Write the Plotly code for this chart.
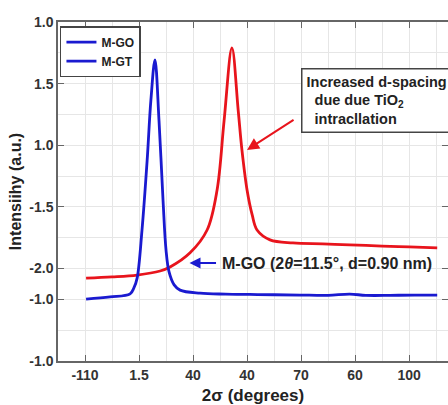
import plotly.graph_objects as go

# -----------------------------
# Datos (unidades de rejilla)
# -----------------------------
x_tick_pos = [1, 3, 5, 7, 9, 11, 13]
x_tick_text = ["-110", "1.5", "40", "40", "70", "60", "100"]
y_tick_pos = [0, 2, 3, 5, 7, 9, 11]
y_tick_text = ["-1.0", "-1.0", "-2.0", "-1.5", "1.0", "1.5", "1.0"]

mgo_x = [1.04, 1.93, 2.67, 2.81, 2.93, 3.11, 3.30, 3.44, 3.59, 3.74, 3.89, 4.00, 4.11,
         4.30, 4.52, 5.26, 6.2, 7.1, 8.0, 8.96, 10.0, 10.8, 11.4, 12.3, 13.2, 14.04]
mgo_y = [2.01, 2.08, 2.18, 2.37, 2.69, 4.25, 6.50, 8.47, 9.77, 7.80, 5.20, 3.60, 2.90,
         2.47, 2.30, 2.20, 2.17, 2.16, 2.15, 2.14, 2.13, 2.17, 2.13, 2.13, 2.14, 2.14]

mgt_x = [1.04, 2.0, 2.93, 3.78, 4.15, 4.89, 5.52, 5.89, 6.15, 6.44, 6.67, 6.81, 7.00,
         7.19, 7.37, 7.85, 8.70, 9.8, 10.8, 12.0, 13.0, 14.04]
mgt_y = [2.69, 2.73, 2.79, 2.92, 3.05, 3.51, 4.25, 5.55, 7.80, 10.16, 8.15, 6.85, 5.55,
         4.74, 4.25, 3.93, 3.83, 3.80, 3.77, 3.73, 3.70, 3.67]

FONT = "Liberation Sans, Arial"
BLUE = "#1a1ad0"
RED = "#e8141c"

fig = go.Figure()

fig.add_trace(go.Scatter(x=mgt_x, y=mgt_y, mode="lines", line=dict(color=RED, width=2.8),
                         line_shape="spline", showlegend=False))
fig.add_trace(go.Scatter(x=mgo_x, y=mgo_y, mode="lines", line=dict(color=BLUE, width=2.8),
                         line_shape="spline", name="M-GO"))
# la leyenda original muestra M-GT en azul
fig.add_trace(go.Scatter(x=[None], y=[None], mode="lines", line=dict(color=BLUE, width=2.8),
                         name="M-GT"))

axis_font = dict(family=FONT, size=14, color="#333333", weight="bold")
common = dict(
    tickfont=axis_font, ticks="inside", ticklen=6, tickcolor="#666666",
    showline=True, linecolor="#666666", linewidth=1.5, mirror="ticks",
    showgrid=True, gridcolor="#e6e6e6", gridwidth=1,
    minor=dict(dtick=1, tick0=0, showgrid=True, gridcolor="#e6e6e6", ticks=""),
    zeroline=False, automargin=False,
)

fig.update_xaxes(
    range=[0, 14.44], tickvals=x_tick_pos, ticktext=x_tick_text, **common,
    title=dict(text="2σ (degrees)", font=dict(family=FONT, size=17, color="#222222",
                                                weight="bold"), standoff=9),
)
fig.update_yaxes(
    range=[0, 11], tickvals=y_tick_pos, ticktext=y_tick_text, **common,
    title=dict(text="Intensiihy (a.u.)", font=dict(family=FONT, size=16, color="#222222",
                                                     weight="bold"), standoff=4),
)

# flecha roja hacia el pico M-GT
fig.add_annotation(
    x=7.0, y=6.85, ax=48, ay=-31, xref="x", yref="y", text="", showarrow=True,
    arrowhead=2, arrowsize=1.2, arrowwidth=2, arrowcolor=RED,
)
fig.add_annotation(
    x=0.623, y=0.865, xref="paper", yref="paper", xanchor="left", yanchor="top",
    text="Increased d-spacing<br>  due due TiO<sub>2</sub><br>  intracllation",
    showarrow=False, align="left", bordercolor="#444444", borderwidth=1.5, borderpad=4,
    bgcolor="white", font=dict(family=FONT, size=14.5, color="#222222", weight="bold"),
)

# flecha azul + etiqueta M-GO
fig.add_annotation(
    x=4.87, y=3.18, ax=28, ay=0, xref="x", yref="y", text="", showarrow=True,
    arrowhead=2, arrowsize=1.1, arrowwidth=2, arrowcolor=BLUE,
)
fig.add_annotation(
    x=6.0, y=3.18, xref="x", yref="y", xanchor="left", yanchor="middle",
    text="M-GO (2<i>θ</i>=11.5°, d=0.90 nm)", showarrow=False,
    font=dict(family=FONT, size=16, color="#222222", weight="bold"),
)

fig.update_layout(
    width=448, height=405,
    margin=dict(l=58, r=0, t=22, b=44),
    plot_bgcolor="white", paper_bgcolor="white",
    legend=dict(x=0.005, y=0.988, xanchor="left", yanchor="top",
                bordercolor="#444444", borderwidth=1.5, bgcolor="white",
                font=dict(family=FONT, size=12, color="#222222", weight="bold"),
                tracegroupgap=0, itemwidth=30),
)

fig.write_html("out.html", config={"displayModeBar": False},
               post_script="document.body.style.margin='0';")
